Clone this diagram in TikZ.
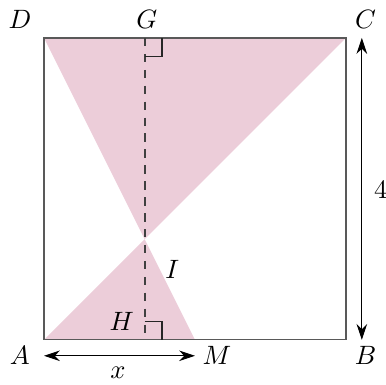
\documentclass[tikz,border=0pt]{standalone}
\usetikzlibrary{arrows.meta,calc}
\definecolor{rosefill}{RGB}{236,205,217}
\begin{document}
\begin{tikzpicture}[>={Stealth[length=6pt,width=4pt]}]
	  \useasboundingbox (-0.583,-0.596) rectangle (4.53,4.503);
	  \coordinate (A) at (0,0);
	  \coordinate (B) at (4,0);
	  \coordinate (C) at (4,4);
	  \coordinate (D) at (0,4);
	  \coordinate (M) at (2,0);
	  \coordinate (I) at (4/3,4/3);
	  \coordinate (G) at (4/3,4);
	  \coordinate (H) at (4/3,0);
	  \fill[rosefill] (D) -- (C) -- (I) -- cycle;
	  \fill[rosefill] (A) -- (M) -- (I) -- cycle;
	  \draw[black!65] (A) rectangle (C);
	  \draw[black!75,line width=0.8pt,dash pattern=on 3.2pt off 2.8pt] (G) -- (H);
	  \draw[black!85] ($(G)+(0,-0.24)$) -- ++(0.23,0) -- ++(0,0.24);
	  \draw[black!85] ($(H)+(0,0.24)$) -- ++(0.23,0) -- ++(0,-0.24);
	  \coordinate (ab) at (0,-0.21);
	  \coordinate (am) at (2,-0.21);
	  \coordinate (bb) at (4.21,0);
	  \coordinate (bc) at (4.21,4);
	  \draw[<->] (ab) -- (am);
	  \draw[<->] (bb) -- (bc);
	  \node (lD) at (-0.32,4.24) {$D$};
	  \node (lG) at (1.36,4.24) {$G$};
	  \node (lC) at (4.26,4.24) {$C$};
	  \node (lA) at (-0.32,-0.21) {$A$};
	  \node (lB) at (4.26,-0.21) {$B$};
	  \node (lM) at (2.29,-0.21) {$M$};
	  \node (lI) at (1.70,0.93) {$I$};
	  \node (lH) at (1.03,0.24) {$H$};
	  \node (lx) at (0.98,-0.43) {$x$};
	  \node (l4) at (4.46,1.99) {$4$};
	\end{tikzpicture}
\end{document}
